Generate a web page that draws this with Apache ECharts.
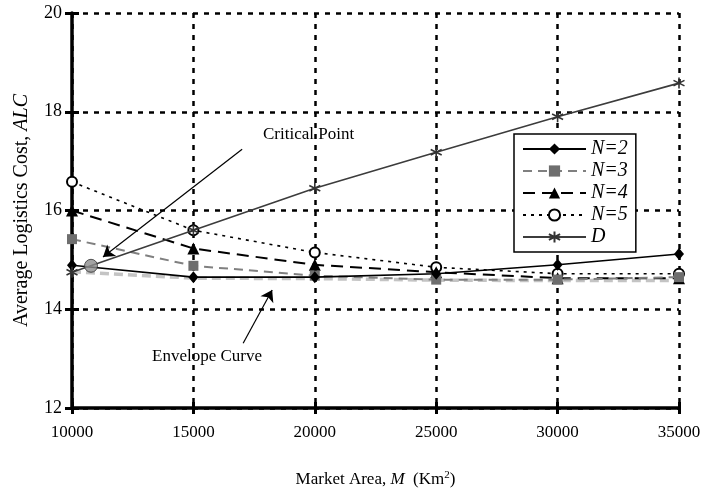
<!DOCTYPE html>
<html>
<head>
<meta charset="utf-8">
<script src="https://cdn.jsdelivr.net/npm/echarts@6/dist/echarts.min.js"></script>
<style>
  html, body { margin: 0; padding: 0; background: #fff; }
  #chart { width: 709px; height: 497px; }
</style>
</head>
<body>
<div id="chart"></div>
<script>
// Market area (km^2) on the horizontal axis
const marketArea = [10000, 15000, 20000, 25000, 30000, 35000];

// Average logistics cost per number of facilities
const costN2 = [14.89, 14.65, 14.65, 14.72, 14.90, 15.12];
const costN3 = [15.42, 14.88, 14.68, 14.60, 14.60, 14.65];
const costN4 = [16.00, 15.23, 14.90, 14.75, 14.63, 14.63];
const costN5 = [16.58, 15.60, 15.15, 14.85, 14.72, 14.72];
const costD  = [14.75, 15.60, 16.45, 17.18, 17.90, 18.58];

// Lower envelope of the cost curves
const envelopeX = [10000, 15000, 20000, 25000, 30000, 35000];
const envelopeY = [14.76, 14.63, 14.62, 14.59, 14.58, 14.58];

// Critical point where D crosses N=2
const criticalPoint = [10783, 14.88];

const yTicks = [12, 14, 16, 18, 20];

const FONT = '"Liberation Serif", "Times New Roman", serif';

function pairs(xs, ys) { return xs.map((x, i) => [x, ys[i]]); }

const asterisk = 'path://M5,0L5,10M0.67,2.5L9.33,7.5M0.67,7.5L9.33,2.5';

const chart = echarts.init(document.getElementById('chart'), null, { renderer: 'canvas' });

const gridLine = { show: true, lineStyle: { color: '#000', width: 2.5, type: [5, 6] } };
const plain = v => String(v);

chart.setOption({
  animation: false,
  backgroundColor: '#fff',
  grid: { left: 72, right: 30, top: 13, bottom: 89, containLabel: false },
  legend: {
    orient: 'vertical',
    left: 514, top: 134,
    padding: [5, 8, 5, 8],
    itemWidth: 63, itemHeight: 14, itemGap: 2,
    borderColor: '#000', borderWidth: 1.5,
    backgroundColor: '#fff',
    textStyle: { fontFamily: FONT, fontStyle: 'italic', fontSize: 20, color: '#000', padding: [0, 4, 0, 0] },
    data: ['N=2', 'N=3', 'N=4', 'N=5', 'D']
  },
  xAxis: [{
    type: 'value', min: marketArea[0], max: marketArea[marketArea.length - 1], interval: 5000,
    axisLine: { show: true, onZero: false, lineStyle: { color: '#000', width: 3.5 } },
    axisTick: { show: true, length: 6, lineStyle: { color: '#000', width: 3 } },
    axisLabel: { fontFamily: FONT, fontSize: 17, color: '#000', margin: 16, formatter: plain },
    splitLine: gridLine,
    name: 'Market Area, {i|M}  (Km{s|2})',
    nameLocation: 'middle', nameGap: 62,
    nameTextStyle: {
      fontFamily: FONT, fontSize: 17, color: '#000',
      rich: {
        i: { fontFamily: FONT, fontSize: 17, fontStyle: 'italic', color: '#000' },
        s: { fontFamily: FONT, fontSize: 11, color: '#000', padding: [0, 0, 9, 0] }
      }
    }
  }, {
    type: 'value', min: marketArea[0], max: marketArea[marketArea.length - 1], interval: 5000,
    position: 'bottom',
    axisLine: { show: false, onZero: false },
    axisTick: { show: true, inside: true, length: 6, lineStyle: { color: '#000', width: 3 } },
    axisLabel: { show: false }, splitLine: { show: false }
  }],
  yAxis: [{
    type: 'value', min: yTicks[0], max: yTicks[yTicks.length - 1], interval: 2,
    axisLine: { show: true, onZero: false, lineStyle: { color: '#000', width: 3.5 } },
    axisTick: { show: true, length: 7, lineStyle: { color: '#000', width: 3 } },
    axisLabel: { fontFamily: FONT, fontSize: 18, color: '#000', margin: 10, formatter: plain },
    splitLine: gridLine,
    name: 'Average Logistics Cost, {i|ALC}',
    nameLocation: 'middle', nameGap: 40, nameRotate: 90,
    nameTextStyle: {
      fontFamily: FONT, fontSize: 20, color: '#000',
      rich: { i: { fontFamily: FONT, fontSize: 20, fontStyle: 'italic', color: '#000' } }
    }
  }, {
    type: 'value', min: yTicks[0], max: yTicks[yTicks.length - 1], interval: 2,
    position: 'left',
    axisLine: { show: false, onZero: false },
    axisTick: { show: true, inside: true, length: 7, lineStyle: { color: '#000', width: 3 } },
    axisLabel: { show: false }, splitLine: { show: false }
  }],
  graphic: [
    { type: 'text', left: 263, top: 126, style: { text: 'Critical Point', fontFamily: FONT, fontSize: 17, fill: '#000' } },
    { type: 'text', left: 152, top: 348, style: { text: 'Envelope Curve', fontFamily: FONT, fontSize: 17, fill: '#000' } }
  ],
  series: [
    {
      name: 'Envelope', type: 'line', data: pairs(envelopeX, envelopeY),
      symbol: 'none', z: 1, silent: true,
      lineStyle: { color: '#c4c4c4', width: 3.5, type: [9, 5] },
      markLine: {
        silent: true, symbol: ['none', 'arrow'], symbolSize: 11,
        label: { show: false },
        emphasis: { disabled: true },
        lineStyle: { color: '#000', width: 1.2, type: 'solid' },
        data: [
          [{ coord: [17007, 17.24], symbol: 'none' }, { coord: [11278, 15.06], symbol: 'arrow' }],
          [{ coord: [17049, 13.31], symbol: 'none' }, { coord: [18244, 14.39], symbol: 'arrow' }]
        ]
      }
    },
    {
      name: 'N=5', type: 'line', data: pairs(marketArea, costN5), z: 3,
      symbol: 'emptyCircle', symbolSize: 10, showAllSymbol: true,
      itemStyle: { color: '#000', borderColor: '#000', borderWidth: 1.5 },
      lineStyle: { color: '#000', width: 1.6, type: [3, 5] }
    },
    {
      name: 'N=4', type: 'line', data: pairs(marketArea, costN4), z: 3,
      symbol: 'triangle', symbolSize: 12,
      itemStyle: { color: '#000' },
      lineStyle: { color: '#000', width: 2, type: [12, 7] }
    },
    {
      name: 'N=3', type: 'line', data: pairs(marketArea, costN3), z: 3,
      symbol: 'rect', symbolSize: 10,
      itemStyle: { color: '#6e6e6e' },
      lineStyle: { color: '#808080', width: 2, type: [9, 6] }
    },
    {
      name: 'N=2', type: 'line', data: pairs(marketArea, costN2), z: 4,
      symbol: 'diamond', symbolSize: [10, 12],
      itemStyle: { color: '#000' },
      lineStyle: { color: '#000', width: 1.6, type: 'solid' }
    },
    {
      name: 'D', type: 'line', data: pairs(marketArea, costD), z: 4,
      symbol: asterisk, symbolSize: 11,
      itemStyle: { color: 'none', borderColor: '#333', borderWidth: 1.6 },
      lineStyle: { color: '#3c3c3c', width: 1.6, type: 'solid' }
    },
    {
      name: 'Critical', type: 'scatter', data: [criticalPoint], z: 6,
      symbol: 'circle', symbolSize: 13,
      itemStyle: { color: '#8c8c8c', borderColor: '#333', borderWidth: 1 }
    }
  ]
});
</script>
</body>
</html>
